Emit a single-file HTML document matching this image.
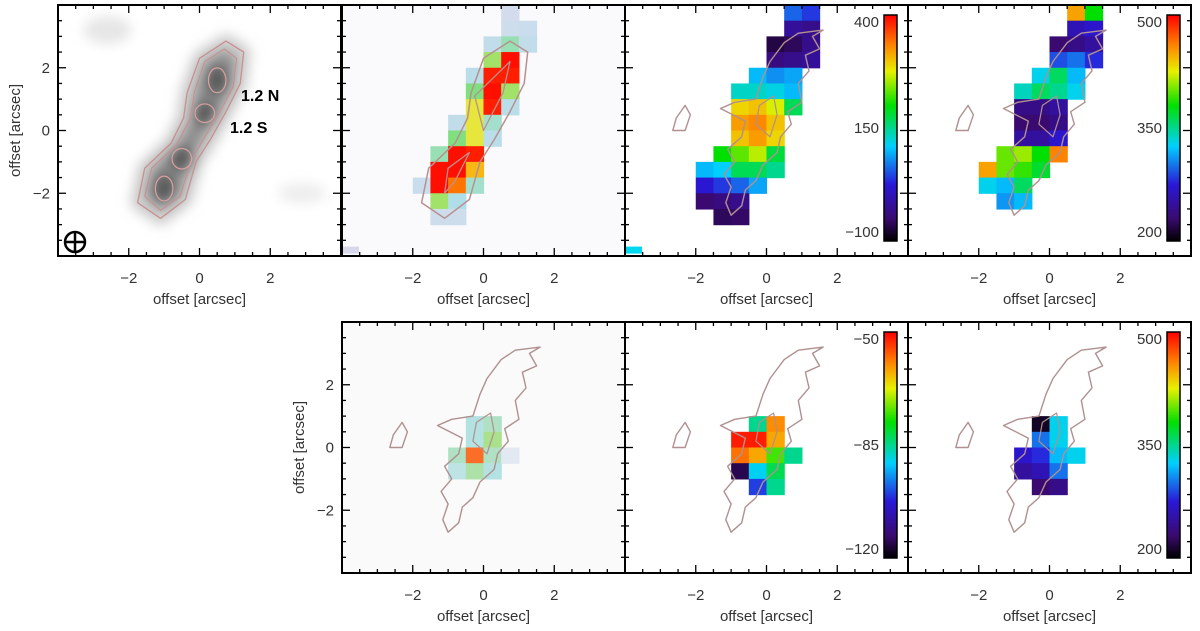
<!DOCTYPE html>
<html><head><meta charset="utf-8"><style>
html,body{margin:0;padding:0;background:#fff;}
svg{display:block;font-family:"Liberation Sans",sans-serif;}
</style></head><body>
<svg id="fig" width="1200" height="631" viewBox="0 0 1200 631">
<defs>
<filter id="blur6" x="-50%" y="-50%" width="200%" height="200%"><feGaussianBlur stdDeviation="6"/></filter>
<linearGradient id="rb" x1="0" y1="1" x2="0" y2="0">
<stop offset="0" stop-color="#000"/><stop offset="0.1" stop-color="#3a0a70"/><stop offset="0.25" stop-color="#2a18d8"/><stop offset="0.42" stop-color="#00d0ff"/><stop offset="0.6" stop-color="#00e000"/><stop offset="0.75" stop-color="#e8f000"/><stop offset="0.87" stop-color="#ff8000"/><stop offset="1" stop-color="#ff0000"/>
</linearGradient>
</defs>
<g id="root"></g>
</svg>
<script>
const panelX = [58, 342, 625, 908, 342, 625, 908];
const panelY = [5, 5, 5, 5, 322, 322, 322];
const PW = 283, PH = 251;
// rows: [yCenter, xStart, values...] cell size 0.5 arcsec
const fluxRows = [[3.75,0.5,0.05],[3.25,0.5,0.08,0.1],[2.75,0.0,0.15,0.35,0.15],[2.25,0.0,0.5,0.95],[1.75,-0.5,0.2,0.9,0.9],[1.25,-0.5,0.45,0.95,0.5],[0.75,-0.5,0.6,0.9,0.2],[0.25,-1.0,0.15,0.6,0.3],[-0.25,-1.0,0.45,0.6,0.2],[-0.75,-1.5,0.35,0.95,0.9],[-1.25,-1.5,0.95,0.95,0.7],[-1.75,-2.0,0.1,0.95,0.8,0.3],[-2.25,-1.5,0.5,0.25],[-2.75,-1.5,0.08,0.08]];
const velRows = [[3.75,0.5,60,40],[3.25,0.5,-20,-30],[2.75,0.0,-70,-60,-30],[2.25,0.0,-40,-30,-20],[1.75,-0.5,100,80,90],[1.25,-1.0,130,130,120,100],[0.75,-1.0,290,300,270,170],[0.25,-1.0,320,330,300],[-0.25,-1.0,300,320,290],[-0.75,-1.5,200,230,260,180],[-1.25,-2.0,100,110,170,170,150],[-1.75,-2.0,20,40,60,90],[-2.25,-2.0,-50,-40,-30],[-2.75,-1.5,-60,-55]];
const dispRows = [[3.75,0.5,450,380],[3.25,0.5,260,270],[2.75,0.0,230,240,250],[2.25,0.0,290,300,280],[1.75,-0.5,330,360,320],[1.25,-1.0,340,360,350,330],[0.75,-1.0,240,240,250],[0.25,-1.0,230,230,240],[-0.25,-1.0,250,250,270],[-0.75,-1.5,400,410,380,460],[-1.25,-2.0,450,400,390,370],[-1.75,-2.0,330,320,360],[-2.25,-1.5,310,320]];
const flux2Rows = [[0.75,-0.5,0.3,0.35],[0.25,-0.5,0.3,0.45],[-0.25,-1.0,0.35,0.8,0.35,0.05],[-0.75,-1.0,0.25,0.4,0.3]];
const vel2Rows = [[0.75,-0.5,-85,-60],[0.25,-1.0,-52,-52,-62],[-0.25,-1.0,-58,-62,-75,-85],[-0.75,-1.0,-115,-90,-82],[-1.25,-0.5,-100,-85]];
const disp2Rows = [[0.75,-0.5,210,330],[0.25,-0.5,300,330],[-0.25,-1.0,270,280,320,330],[-0.75,-1.0,250,260,300],[-1.25,-0.5,230,240]];
const xTicks = [-2, 0, 2];
const yTicks = [2, 0, -2];
const cbar3 = ["400","150","\u2212100"];
const cbar4 = ["500","350","200"];
const cbar6 = ["\u221250","\u221285","\u2212120"];
const cbar7 = ["500","350","200"];
const smoothOuter = [[0.75,2.85],[1.25,2.5],[1.15,1.5],[0.75,0.6],[0.3,-0.3],[-0.1,-1.0],[-0.4,-2.2],[-1.1,-2.8],[-1.75,-2.3],[-1.55,-1.2],[-0.8,-0.4],[-0.45,0.4],[-0.35,1.2],[0.0,2.3]];
const smoothMid = [[0.7,2.6],[1.05,2.3],[0.95,1.4],[0.55,0.55],[0.1,-0.3],[-0.25,-1.0],[-0.55,-2.1],[-1.1,-2.55],[-1.55,-2.1],[-1.35,-1.2],[-0.65,-0.45],[-0.25,0.4],[-0.15,1.2],[0.15,2.2]];
const blobs = [[0.5,1.6,0.25,0.4],[0.15,0.55,0.28,0.3],[-0.5,-0.9,0.28,0.33],[-1.0,-1.85,0.25,0.4]];
const jagged = [[1.6,3.2],[1.3,3.0],[1.5,2.6],[1.1,2.4],[1.2,1.9],[0.9,1.5],[1.0,0.9],[0.6,0.6],[0.7,0.2],[0.4,-0.2],[0.3,-0.7],[-0.1,-1.1],[-0.3,-1.6],[-0.6,-1.9],[-0.7,-2.4],[-1.0,-2.7],[-1.15,-2.3],[-1.0,-1.8],[-1.2,-1.4],[-0.9,-1.0],[-1.1,-0.6],[-0.7,-0.2],[-0.6,0.3],[-1.3,0.7],[-0.9,0.9],[-0.3,1.0],[-0.1,1.7],[0.1,2.2],[0.5,2.8],[0.9,3.1]];
const island = [[-2.3,0.8],[-2.15,0.5],[-2.3,0.0],[-2.65,0.0],[-2.55,0.4]];

const NS="http://www.w3.org/2000/svg";
const root=document.getElementById('root');
function el(tag,attrs,parent){const e=document.createElementNS(NS,tag);for(const k in attrs)e.setAttribute(k,attrs[k]);(parent||root).appendChild(e);return e;}
function sx(p,v){return panelX[p]+PW/2+v*PW/8;}
function sy(p,v){return panelY[p]+PH/2-v*PH/8;}
function lerp(a,b,t){return a+(b-a)*t;}
function cmap(stops,t){t=Math.max(0,Math.min(1,t));for(let i=1;i<stops.length;i++){if(t<=stops[i][0]){const a=stops[i-1],b=stops[i];const u=(t-a[0])/(b[0]-a[0]);return 'rgb('+[1,2,3].map(j=>Math.round(lerp(a[j],b[j],u))).join(',')+')';}}const l=stops[stops.length-1];return 'rgb('+l[1]+','+l[2]+','+l[3]+')';}
const RB=[[0,0,0,0],[0.1,58,10,112],[0.25,42,24,216],[0.42,0,208,255],[0.6,0,224,0],[0.75,232,240,0],[0.87,255,128,0],[1,255,0,0]];
const FL=[[0,220,220,238],[0.25,176,222,232],[0.45,128,224,128],[0.6,230,230,60],[0.75,255,160,0],[0.9,255,30,0],[1,255,0,0]];
const FL2=[[0,235,235,245],[0.3,180,225,225],[0.45,170,225,140],[0.6,230,220,90],[0.8,250,110,40],[1,255,60,40]];

function drawCells(p,rows,stops,vmin,vmax,name){
  const g=el('g',{});
  
  
  rows.forEach(r=>{const y=r[0],x0=r[1];for(let i=2;i<r.length;i++){const x=x0+(i-2)*0.5;
    const c=el('rect',{x:sx(p,x),y:sy(p,y+0.25),width:PW/16+0.6,height:PH/16+0.6,fill:cmap(stops,(r[i]-vmin)/(vmax-vmin))},g);
    
    }});
}
function pathD(p,pts){return pts.map((q,i)=>(i?'L':'M')+sx(p,q[0]).toFixed(1)+' '+sy(p,q[1]).toFixed(1)).join(' ')+'Z';}
function poly(p,pts,attrs,name,parent){const e=el('path',Object.assign({d:pathD(p,pts),fill:'none','stroke-linejoin':'round'},attrs),parent);return e;}

// panel 1 grayscale image
const g1=el('g',{filter:'url(#blur6)'});


el('ellipse',{cx:sx(0,-2.6),cy:sy(0,3.2),rx:24,ry:14,fill:'#e6e6e6'},g1);
el('ellipse',{cx:sx(0,2.9),cy:sy(0,-2.0),rx:24,ry:10,fill:'#ededed'},g1);
el('path',{d:pathD(0,smoothOuter),fill:'#c8c8c8',stroke:'#cccccc','stroke-width':14,'stroke-linejoin':'round'},g1);
el('path',{d:pathD(0,smoothMid),fill:'#8e8e8e'},g1);
blobs.forEach(b=>el('ellipse',{cx:sx(0,b[0]),cy:sy(0,b[1]),rx:b[2]*35+3,ry:b[3]*31+3,fill:'#5a5a5a'},g1));
poly(0,smoothOuter,{stroke:'#c89090','stroke-width':1.3},'contour-outer');
poly(0,smoothMid,{stroke:'#c89090','stroke-width':1.1},'contour-mid');
blobs.forEach(b=>{const e=el('ellipse',{cx:sx(0,b[0]),cy:sy(0,b[1]),rx:b[2]*35,ry:b[3]*31,fill:'none',stroke:'#d8a0a0','stroke-width':1.2});});
let t=el('text',{x:241,y:101,'font-size':16,'font-weight':'bold',fill:'#000'});t.textContent='1.2 N';
t=el('text',{x:230,y:133,'font-size':16,'font-weight':'bold',fill:'#000'});t.textContent='1.2 S';
const beam=el('g',{stroke:'#000','stroke-width':2.5,fill:'none'});
el('circle',{cx:75,cy:242,r:10},beam);el('line',{x1:64,y1:242,x2:86,y2:242},beam);el('line',{x1:75,y1:231,x2:75,y2:253},beam);

// panel 2
el('rect',{x:panelX[1],y:panelY[1],width:PW,height:PH,fill:'#fafafc'});
drawCells(1,fluxRows,FL,0,1,'flux-map');
poly(1,smoothOuter,{stroke:'#b89090','stroke-width':1.5},'contour-outer');
poly(1,[[0.75,2.2],[0.55,1.2],[0.0,0.0],[-0.25,1.1]],{stroke:'#b89090','stroke-width':1.3},'contour-inner-n');
poly(1,[[-0.4,-0.7],[-0.8,-1.6],[-1.1,-2.0],[-1.0,-1.2]],{stroke:'#b89090','stroke-width':1.3},'contour-inner-s');
el('rect',{x:panelX[1]+1,y:sy(1,-3.7),width:16,height:7,fill:'#d8d8ea'});
drawCells(2,velRows,RB,-100,400,'velocity-map');
drawCells(3,dispRows,RB,200,500,'dispersion-map');
el('rect',{x:panelX[2]+1,y:sy(2,-3.7),width:16,height:7,fill:'#00d8f0'});
el('rect',{x:panelX[4],y:panelY[4],width:PW,height:PH,fill:'#fafafa'});
drawCells(4,flux2Rows,FL2,0,1,'flux-map-2');
drawCells(5,vel2Rows,RB,-120,-50,'velocity-map-2');
drawCells(6,disp2Rows,RB,200,500,'dispersion-map-2');
[2,3,4,5,6].forEach(p=>{poly(p,jagged,{stroke:'#b09090','stroke-width':1.4},'contour-line');poly(p,island,{stroke:'#b09090','stroke-width':1.4},'contour-island');
 poly(p,[[0.2,1.1],[0.3,0.5],[0.1,-0.2],[-0.3,0.2],[-0.2,0.8]],{stroke:'#b09090','stroke-width':1.2},'contour-inner');});

for(let p=0;p<7;p++){
  const x=panelX[p],y=panelY[p];
  const f=el('rect',{x:x,y:y,width:PW,height:PH,fill:'none',stroke:'#000','stroke-width':2});
  
  const tg=el('g',{stroke:'#000','stroke-width':1.3});
  for(let v=-3.5;v<=3.51;v+=0.5){const maj=Math.abs(v%2)<0.01;const L=maj?8:4;
    const X=sx(p,v);el('line',{x1:X,y1:y+PH,x2:X,y2:y+PH-L},tg);el('line',{x1:X,y1:y,x2:X,y2:y+L},tg);
    const Y=sy(p,v);el('line',{x1:x,y1:Y,x2:x+L,y2:Y},tg);el('line',{x1:x+PW,y1:Y,x2:x+PW-L,y2:Y},tg);}
  xTicks.forEach(v=>{const tt=el('text',{x:sx(p,v),y:y+PH+27,'font-size':15,fill:'#333','text-anchor':'middle'});tt.textContent=v<0?'\u2212'+(-v):String(v);});
  const xt=el('text',{x:x+PW/2,y:y+PH+48,'font-size':15,fill:'#333','text-anchor':'middle'});xt.textContent='offset [arcsec]';
  if(p===0||p===4){
    yTicks.forEach(v=>{const tt=el('text',{x:x-8,y:sy(p,v)+5,'font-size':15,fill:'#333','text-anchor':'end'});tt.textContent=v<0?'\u2212'+(-v):String(v);});
    const yt=el('text',{x:0,y:0,'font-size':15,fill:'#333','text-anchor':'middle',transform:'translate('+(x-38)+','+(y+PH/2)+') rotate(-90)'});yt.textContent='offset [arcsec]';
  }
}
[[2,cbar3],[3,cbar4],[5,cbar6],[6,cbar7]].forEach(c=>{const p=c[0];const bx=panelX[p]+PW-24,by=panelY[p]+10,bh=226;
  const r=el('rect',{x:bx,y:by,width:13,height:bh,fill:'url(#rb)',stroke:'#000','stroke-width':1.5});
  c[1].forEach((s,i)=>{const tt=el('text',{x:bx-5,y:by+8+i*(bh-14)/2+(i===2?2:4),'font-size':15,fill:'#333','text-anchor':'end'});tt.textContent=s;});});
</script>
</body></html>
